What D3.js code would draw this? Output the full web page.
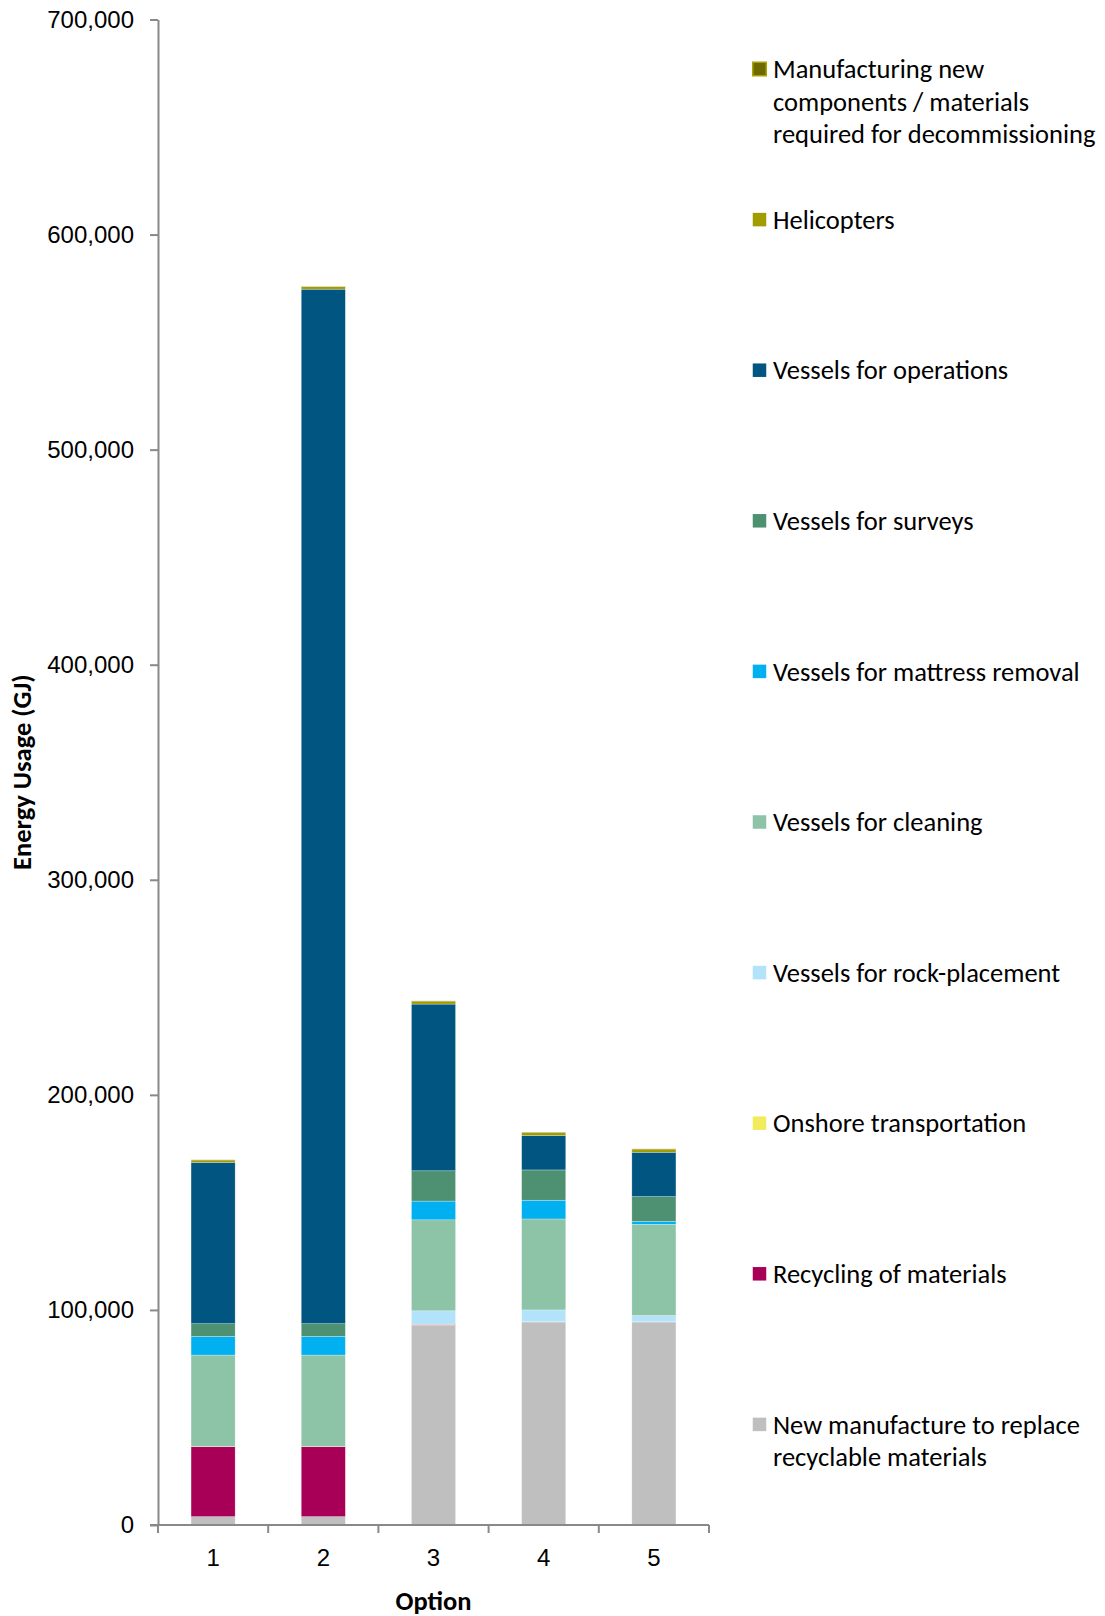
<!DOCTYPE html>
<html>
<head>
<meta charset="utf-8">
<script src="https://cdn.jsdelivr.net/npm/d3@7/dist/d3.min.js"></script>
<style>
  html, body { margin: 0; padding: 0; background: #fff; }
  svg { display: block; font-family: Carlito, Lato, "Open Sans", sans-serif; }
</style>
</head>
<body>
<svg id="chart" width="1105" height="1616"></svg>
<script>
// Decommissioning options on the x axis
const options = ["1", "2", "3", "4", "5"];

// Energy use per source (GJ), listed bottom-to-top in the stack
const newManufacture   = [3900, 3900, 93000, 94400, 94400];
const recycling        = [32500, 32500, 300, 0, 0];
const onshoreTransport = [100, 100, 100, 100, 100];
const rockPlacement    = [0, 0, 6200, 5500, 2900];
const cleaning         = [42500, 42500, 42300, 42300, 42400];
const mattressRemoval  = [8700, 8700, 8700, 8700, 1400];
const surveys          = [5900, 5900, 14100, 14100, 11500];
const operations       = [75000, 481000, 77500, 16000, 20600];
const helicopters      = [1100, 1200, 1400, 1500, 1500];
const newComponents    = [80, 80, 80, 80, 80];

const seriesNames = [
  "New manufacture to replace\nrecyclable materials",
  "Recycling of materials",
  "Onshore transportation",
  "Vessels for rock-placement",
  "Vessels for cleaning",
  "Vessels for mattress removal",
  "Vessels for surveys",
  "Vessels for operations",
  "Helicopters",
  "Manufacturing new\ncomponents / materials\nrequired for decommissioning"
];
const seriesValues = [newManufacture, recycling, onshoreTransport, rockPlacement, cleaning,
                      mattressRemoval, surveys, operations, helicopters, newComponents];
const seriesColors = ["#bfbfbf", "#a80056", "#f2ec5c", "#b3e3fa", "#8dc3a7",
                      "#00b0f0", "#4e9172", "#005581", "#a19c00", "#6e6a00"];

const yTicks = [0, 100000, 200000, 300000, 400000, 500000, 600000, 700000];
const yTitle = "Energy Usage (GJ)";
const xTitle = "Option";

const svg = d3.select("#chart");
const plot = { left: 158, right: 709, top: 19.5, bottom: 1525 };

const x = d3.scaleBand()
  .domain(options)
  .range([plot.left, plot.right])
  .paddingInner(0.6)
  .paddingOuter(0.3);

const y = d3.scaleLinear()
  .domain([0, 700000])
  .range([plot.bottom, plot.top]);

// Build a table for d3.stack
const keys = seriesNames.map((_, i) => "s" + i);
const table = options.map((opt, j) => {
  const row = { option: opt };
  seriesValues.forEach((vals, i) => { row[keys[i]] = vals[j]; });
  return row;
});
const stacked = d3.stack().keys(keys)(table);

// Stacked bars
const layers = svg.append("g").selectAll("g")
  .data(stacked)
  .join("g")
  .attr("fill", (d, i) => seriesColors[i]);

layers.selectAll("rect")
  .data(d => d)
  .join("rect")
  .attr("x", d => x(d.data.option))
  .attr("width", x.bandwidth())
  .attr("y", d => y(d[1]))
  .attr("height", d => Math.max(0, y(d[0]) - y(d[1])))
  .attr("stroke", "#ffffff")
  .attr("stroke-opacity", 0.45)
  .attr("stroke-width", 0.6);

const axisColor = "#898989";

// Y axis
const yAxis = svg.append("g")
  .attr("transform", `translate(${plot.left},0)`)
  .call(d3.axisLeft(y)
    .tickValues(yTicks)
    .tickFormat(d3.format(","))
    .tickSize(8)
    .tickSizeOuter(0)
    .tickPadding(16));
yAxis.select(".domain").attr("stroke", axisColor).attr("stroke-width", 2);
yAxis.selectAll(".tick line").attr("stroke", axisColor).attr("stroke-width", 2);
yAxis.selectAll(".tick text")
  .attr("fill", "#000")
  .style("font-size", "24px");

// X axis: labels at band centres, ticks at band boundaries
const xAxis = svg.append("g")
  .attr("transform", `translate(0,${plot.bottom})`)
  .call(d3.axisBottom(x).tickSize(0).tickSizeOuter(0).tickPadding(24));
xAxis.select(".domain").attr("stroke", axisColor).attr("stroke-width", 2)
  .attr("d", `M${plot.left - 8},0H${plot.right}`);
xAxis.selectAll(".tick text")
  .attr("fill", "#000")
  .style("font-size", "24px");

const boundaries = d3.range(options.length + 1).map(i => plot.left + i * x.step());
xAxis.selectAll("line.boundary")
  .data(boundaries)
  .join("line")
  .attr("class", "boundary")
  .attr("x1", d => d).attr("x2", d => d)
  .attr("y1", 0).attr("y2", 8)
  .attr("stroke", axisColor)
  .attr("stroke-width", 2);

// Axis titles
svg.append("text")
  .attr("transform", `translate(31,${(plot.top + plot.bottom) / 2}) rotate(-90)`)
  .attr("text-anchor", "middle")
  .style("font-size", "26.5px")
  .style("font-weight", "bold")
  .text(yTitle);

svg.append("text")
  .attr("x", (plot.left + plot.right) / 2)
  .attr("y", 1610)
  .attr("text-anchor", "middle")
  .style("font-size", "26.5px")
  .style("font-weight", "bold")
  .text(xTitle);

// Legend, top entry is the top of the stack
const legendOrder = d3.range(seriesNames.length).reverse();
const legend = svg.append("g");
const entry = legend.selectAll("g")
  .data(legendOrder)
  .join("g")
  .attr("transform", (d, k) => `translate(752,${69 + k * 150.6})`);

entry.append("rect")
  .attr("x", 0.75).attr("y", -6.75)
  .attr("width", 13.5).attr("height", 13.5)
  .attr("fill", d => seriesColors[d])
  .attr("stroke", d => d === 9 ? "#a8a400" : "none")
  .attr("stroke-width", 1.5);

entry.append("text")
  .attr("x", 21)
  .attr("y", 0)
  .style("font-size", "26.5px")
  .attr("fill", "#000")
  .selectAll("tspan")
  .data(d => seriesNames[d].split("\n"))
  .join("tspan")
  .attr("x", 21)
  .attr("dy", (d, i) => i === 0 ? "0.35em" : "32.5")
  .text(d => d);
</script>
</body>
</html>
